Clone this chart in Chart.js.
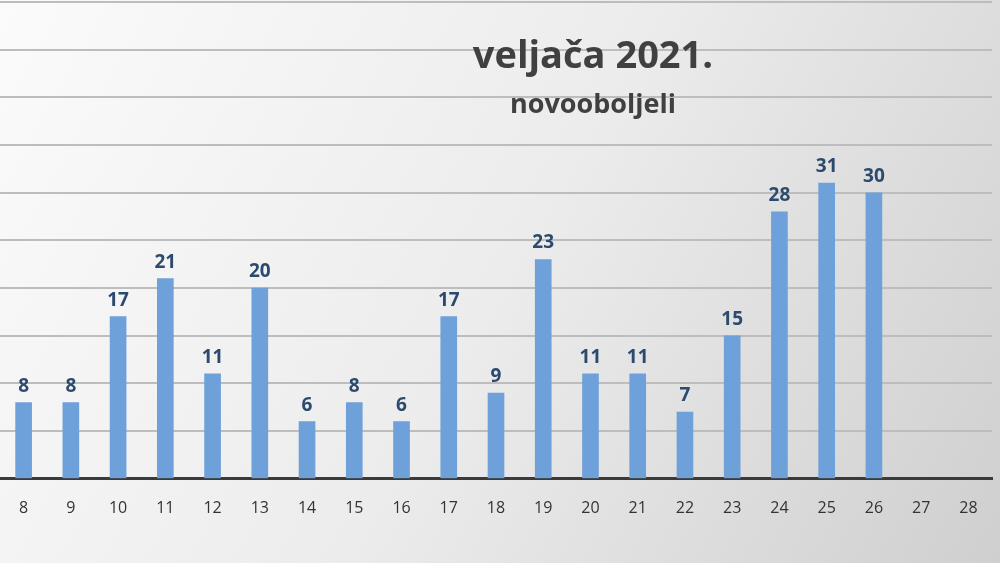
<!DOCTYPE html>
<html><head><meta charset="utf-8">
<script src="https://cdn.jsdelivr.net/npm/chart.js@4"></script>
<style>html,body{margin:0;padding:0;}#w{width:1000px;height:563px;}</style>
</head><body><div id="w"><canvas id="c"></canvas></div>
<script>
const days = ['8','9','10','11','12','13','14','15','16','17','18','19','20','21','22','23','24','25','26','27','28'];
const cases = [8,8,17,21,11,20,6,8,6,17,9,23,11,11,7,15,28,31,30,null,null];
const titleText = 'veljača 2021.';
const subtitleText = 'novooboljeli';

const bg = {id:'bg',beforeDraw(ch){const c=ch.ctx;const g=c.createLinearGradient(0,0,1000,563);
g.addColorStop(0,'#fbfbfb');g.addColorStop(0.5,'#ececec');g.addColorStop(1,'#cfcfcf');
c.save();c.fillStyle=g;c.fillRect(0,0,ch.width,ch.height);c.restore();}};
const txt = {id:'txt',afterDraw(ch){const c=ch.ctx;c.save();c.fillStyle='#404040';c.textAlign='center';
c.font='bold 38px "Open Sans", sans-serif';c.fillText(titleText,593,68);
c.font='bold 27px "Open Sans", sans-serif';c.fillText(subtitleText,593,113);c.restore();}};
const lbl = {id:'lbl',afterDatasetsDraw(ch){const c=ch.ctx;const m=ch.getDatasetMeta(0);c.save();
c.fillStyle='#2b4a6e';c.font='bold 19px "Open Sans", sans-serif';c.textAlign='center';
m.data.forEach((b,i)=>{if(cases[i]!=null)c.fillText(cases[i],b.x,b.y-11);});c.restore();}};

new Chart(document.getElementById('c'),{type:'bar',
data:{labels:days,datasets:[{data:cases,backgroundColor:'#6ea1d9',barThickness:16}]},
options:{responsive:true,maintainAspectRatio:false,animation:false,
layout:{padding:{left:-7,right:8,top:2,bottom:33}},
plugins:{legend:{display:false},tooltip:{enabled:false}},
scales:{x:{grid:{display:false},border:{color:'#3a3a3a',width:3},
ticks:{color:'#333',font:{size:16,family:'"Open Sans", sans-serif'},padding:12,maxRotation:0}},
y:{display:true,min:0,max:50,ticks:{stepSize:5,display:false},border:{display:false},
grid:{color:'#bdbdbd',lineWidth:2,drawTicks:false}}}},
plugins:[bg,txt,lbl]});
</script></body></html>
